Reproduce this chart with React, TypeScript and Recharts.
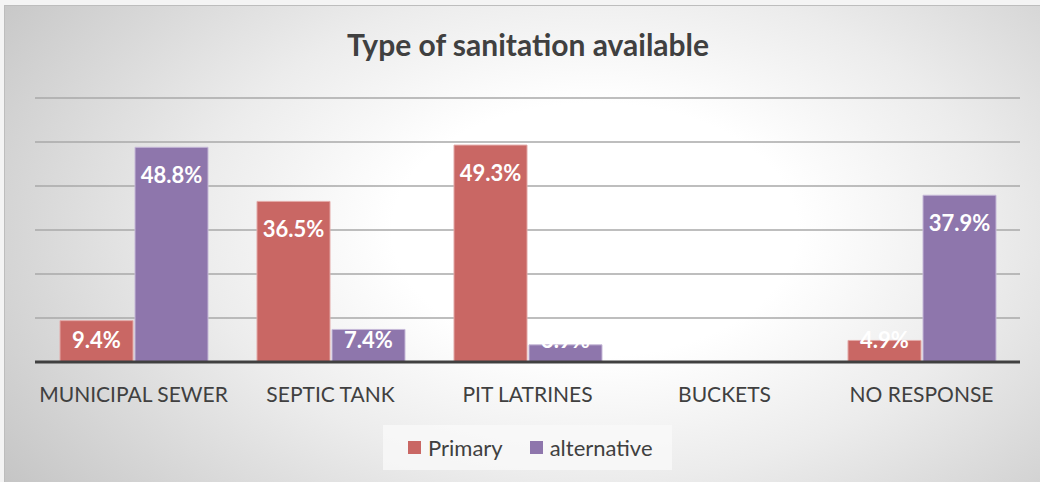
import React from 'react';
import { BarChart, Bar, XAxis, YAxis, CartesianGrid, Legend, LabelList } from 'recharts';

// Sanitation categories and the share of respondents for each
const categories = ['MUNICIPAL SEWER', 'SEPTIC TANK', 'PIT LATRINES', 'BUCKETS', 'NO RESPONSE'];
const primaryValues = [9.4, 36.5, 49.3, 0.0, 4.9];
const alternativeValues = [48.8, 7.4, 3.9, 0.0, 37.9];
const yTicks = [0, 10, 20, 30, 40, 50, 60];

const data = categories.map((name, i) => ({
  name,
  primary: primaryValues[i],
  alternative: alternativeValues[i],
}));

const FONT = 'Lato, "Open Sans", sans-serif';
const RED = '#C96764';
const PURPLE = '#8E76AC';

// White value label placed inside the top of a bar, kept above the baseline for short bars
const InsideLabel = (props: any) => {
  const { x, y, width, height, value } = props;
  const base = y + height;
  const cy = Math.min(y + 27, base - 23);
  return (
    <text
      x={x + width / 2}
      y={cy}
      fill="#ffffff"
      fontFamily={FONT}
      fontWeight={700}
      fontSize={22}
      textAnchor="middle"
      dominantBaseline="central"
    >
      {Number(value).toFixed(1)}%
    </text>
  );
};

const LegendBox = () => (
  <div
    style={{
      width: 289,
      height: 45,
      background: 'rgba(250,250,250,0.75)',
      display: 'flex',
      alignItems: 'center',
      fontFamily: FONT,
      fontSize: 22,
      color: '#404040',
    }}
  >
    <span style={{ display: 'inline-block', width: 13, height: 13, background: RED, marginLeft: 25, marginRight: 7 }} />
    <span>Primary</span>
    <span style={{ display: 'inline-block', width: 13, height: 13, background: PURPLE, marginLeft: 27, marginRight: 7 }} />
    <span>alternative</span>
  </div>
);

export default function App() {
  return (
    <div style={{ position: 'absolute', left: 0, top: 0, width: 1040, height: 482, background: '#f4f4f4' }}>
      <div
        style={{
          position: 'absolute',
          left: 4,
          top: 5,
          width: 1036,
          height: 477,
          boxSizing: 'border-box',
          borderTop: '1px solid #bdbdbd',
          borderLeft: '1px solid #bdbdbd',
          background: 'radial-gradient(ellipse 70% 95% at 57% 47%, #ffffff 28%, #ececec 55%, #c4c4c4 100%)',
        }}
      >
        <div
          style={{
            position: 'absolute',
            left: 0,
            top: 20,
            width: 1046,
            textAlign: 'center',
            fontFamily: FONT,
            fontWeight: 700,
            fontSize: 30,
            lineHeight: 1.2,
            color: '#404040',
          }}
        >
          Type of sanitation available
        </div>
        <BarChart
          width={1036}
          height={477}
          data={data}
          margin={{ top: 93, right: 20, left: 31, bottom: 0 }}
          barGap={2}
          barSize={73}
          style={{ position: 'absolute', left: -1, top: -1 }}
        >
          <CartesianGrid vertical={false} stroke="#a8a8a8" strokeWidth={1.5} />
          <YAxis hide domain={[0, 60]} ticks={yTicks} />
          <XAxis
            dataKey="name"
            height={120}
            axisLine={{ stroke: '#404040', strokeWidth: 3 }}
            tickLine={false}
            tickSize={0}
            tickMargin={25}
            tick={{ fontFamily: FONT, fontSize: 21, fill: '#404040' }}
            interval={0}
          />
          <Legend
            layout="horizontal"
            verticalAlign="middle"
            align="center"
            content={<LegendBox />}
            wrapperStyle={{ left: 379, top: 420, width: 289, height: 45 }}
          />
          <Bar dataKey="primary" name="Primary" fill={RED} stroke="#e3a9a7" strokeWidth={1} isAnimationActive={false}>
            <LabelList dataKey="primary" content={<InsideLabel />} />
          </Bar>
          <Bar dataKey="alternative" name="alternative" fill={PURPLE} stroke="#c6b9d8" strokeWidth={1} isAnimationActive={false}>
            <LabelList dataKey="alternative" content={<InsideLabel />} />
          </Bar>
        </BarChart>
      </div>
    </div>
  );
}
